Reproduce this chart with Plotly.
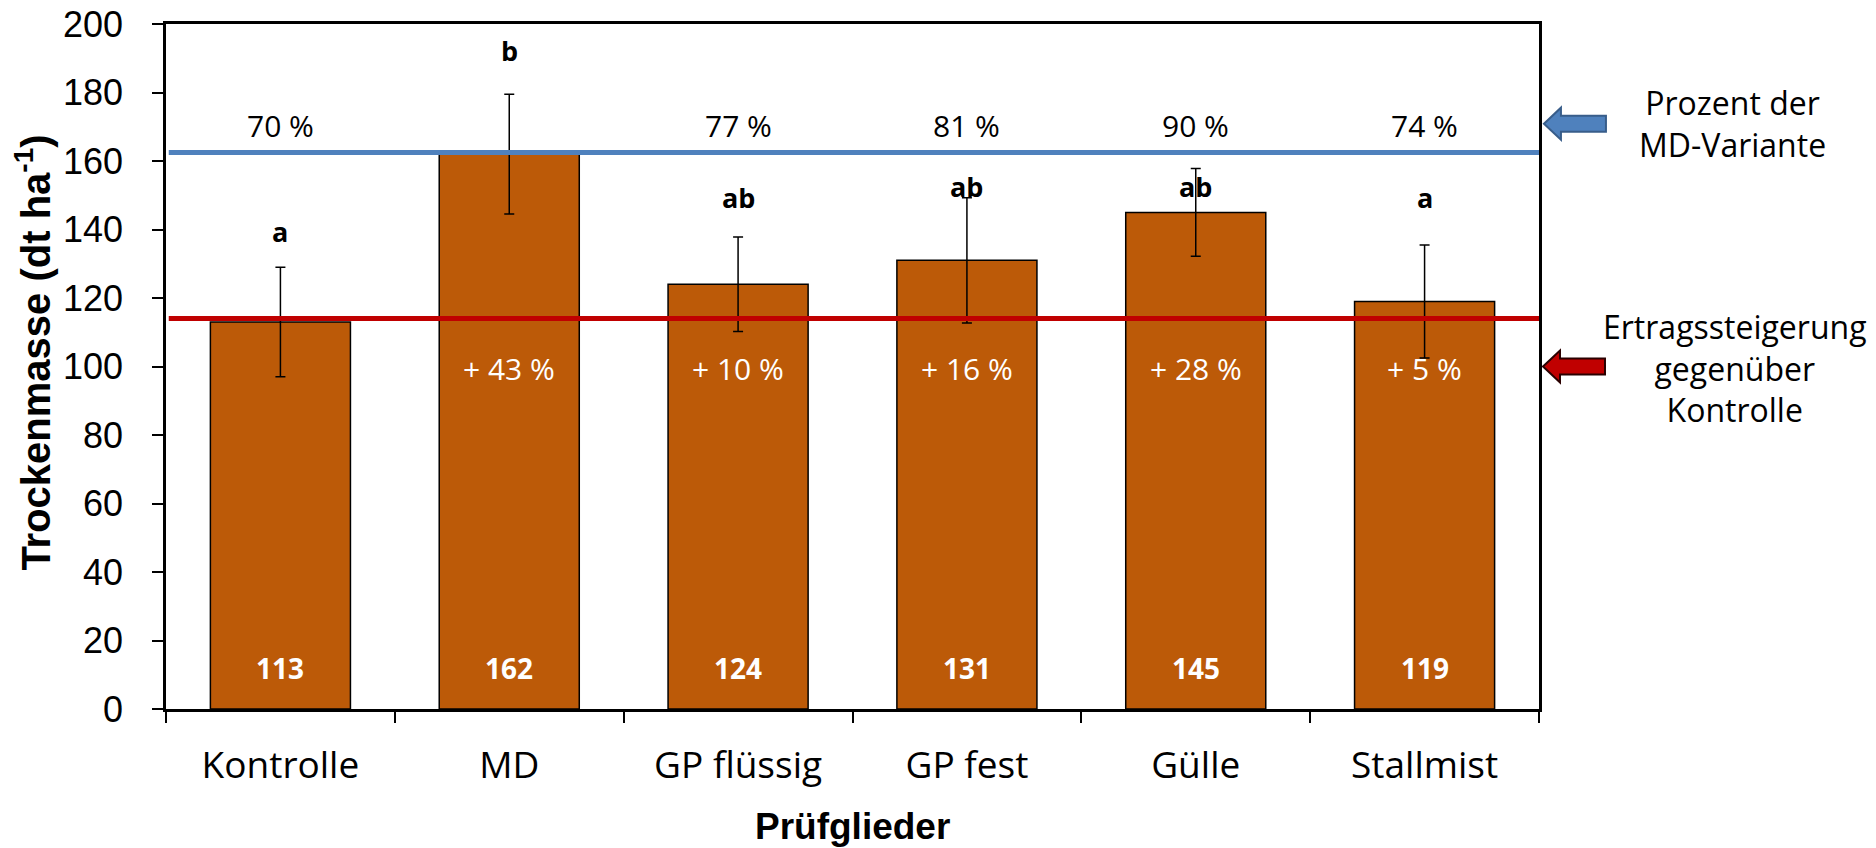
import plotly.graph_objects as go

# ---- data ----
categories = ["Kontrolle", "MD", "GP flüssig", "GP fest", "Gülle", "Stallmist"]
dry_mass = [113, 162, 124, 131, 145, 119]
error_sd = [16.0, 17.5, 13.8, 18.3, 12.8, 16.5]
value_labels = ["113", "162", "124", "131", "145", "119"]
pct_of_md = ["70 %", "", "77 %", "81 %", "90 %", "74 %"]
gain_vs_control = ["", "+ 43 %", "+ 10 %", "+ 16 %", "+ 28 %", "+ 5 %"]
sig_letters = ["a", "b", "ab", "ab", "ab", "a"]
sig_letter_y = [139.5, 192.3, 149.2, 152.7, 152.7, 149.2]
md_ref_level = 162.5
control_ref_level = 114
pct_row_y = 170.4
gain_row_y = 99.5
value_row_y = 12
y_ticks = [0, 20, 40, 60, 80, 100, 120, 140, 160, 180, 200]

BAR = "#BC5A08"
BLUE = "#4F81BD"
RED = "#C00000"
CAL = "Open Sans, Noto Sans, sans-serif"
ARIAL = "Liberation Sans, Arial, sans-serif"

fig = go.Figure()
fig.add_trace(go.Bar(
    x=categories, y=dry_mass,
    marker=dict(color=BAR, line=dict(color="black", width=1.5)),
    error_y=dict(type="data", array=error_sd, visible=True,
                 color="black", thickness=1.5, width=5),
    hoverinfo="x+y", showlegend=False,
))

annotations = []
for c, v, p, g, l, ly, vl in zip(categories, dry_mass, pct_of_md, gain_vs_control,
                                 sig_letters, sig_letter_y, value_labels):
    if p:
        annotations.append(dict(x=c, y=pct_row_y, xref="x", yref="y", text=p,
                                xanchor="center", yanchor="middle",
                                showarrow=False, font=dict(family=CAL, size=30, color="black")))
    if g:
        annotations.append(dict(x=c, y=gain_row_y, xref="x", yref="y", text=g,
                                xanchor="center", yanchor="middle",
                                showarrow=False, font=dict(family=CAL, size=30, color="white")))
    annotations.append(dict(x=c, y=ly, xref="x", yref="y", text="<b>%s</b>" % l,
                            xanchor="center", yanchor="middle",
                            showarrow=False, font=dict(family=CAL, size=27, color="black")))
    annotations.append(dict(x=c, y=value_row_y, xref="x", yref="y", text="<b>%s</b>" % vl,
                            xanchor="center", yanchor="middle",
                            showarrow=False, font=dict(family=CAL, size=28, color="white")))

# side texts
annotations.append(dict(x=1.1406, y=pct_row_y + 0.5, xref="paper", yref="y",
                        xanchor="center", yanchor="middle",
                        text="Prozent der<br>MD-Variante", showarrow=False,
                        align="center", font=dict(family=CAL, size=32, color="black")))
annotations.append(dict(x=1.1428, y=gain_row_y, xref="paper", yref="y",
                        xanchor="center", yanchor="middle",
                        text="Ertragssteigerung<br>gegenüber<br>Kontrolle", showarrow=False,
                        align="center", font=dict(family=CAL, size=32, color="black")))

# axis titles
annotations.append(dict(x=-0.097, y=0.52, xref="paper", yref="paper",
                        xanchor="center", yanchor="middle",
                        text="<b>Trockenmasse (dt ha<sup>-1</sup>)</b>", textangle=-90,
                        showarrow=False, font=dict(family=ARIAL, size=40, color="black")))
annotations.append(dict(x=0.5, y=-0.172, xref="paper", yref="paper",
                        xanchor="center", yanchor="middle",
                        text="<b>Prüfglieder</b>", showarrow=False,
                        font=dict(family=ARIAL, size=37, color="black")))

shapes = [
    dict(type="line", xref="paper", yref="y", x0=0.002, x1=1, y0=md_ref_level, y1=md_ref_level,
         line=dict(color=BLUE, width=5), layer="above"),
    dict(type="line", xref="paper", yref="y", x0=0.002, x1=1, y0=control_ref_level, y1=control_ref_level,
         line=dict(color=RED, width=5), layer="above"),
]
arrow_path = "M 0 0 L 17 16 L 17 8 L 62 8 L 62 -8 L 17 -8 L 17 -16 Z"
shapes.append(dict(type="path", xsizemode="pixel", ysizemode="pixel", xref="paper", yref="y",
                   xanchor=1.0036, yanchor=pct_row_y + 0.5, path=arrow_path,
                   fillcolor=BLUE, line=dict(color="#385D8A", width=2)))
shapes.append(dict(type="path", xsizemode="pixel", ysizemode="pixel", xref="paper", yref="y",
                   xanchor=1.0029, yanchor=gain_row_y + 0.5, path=arrow_path,
                   fillcolor=RED, line=dict(color="#2a0000", width=2)))

fig.update_layout(
    width=1876, height=848,
    margin=dict(l=158, r=345, t=16, b=147),
    paper_bgcolor="white", plot_bgcolor="white",
    bargap=0.388,
    annotations=annotations,
    shapes=shapes,
    showlegend=False,
    xaxis=dict(
        type="category", showline=True, linecolor="black", linewidth=2.5, mirror=True,
        ticks="outside", tickson="boundaries", ticklen=11, tickcolor="black", tickwidth=1.5,
        tickfont=dict(family=CAL, size=37, color="black"), ticklabelstandoff=22,
        showgrid=False, zeroline=False, automargin=False,
    ),
    yaxis=dict(
        range=[0, 200], tickvals=y_ticks, showline=True, linecolor="black", linewidth=2.5,
        mirror=True, ticks="outside", ticklen=11, tickcolor="black", tickwidth=1.5,
        tickfont=dict(family=ARIAL, size=36, color="black"), ticklabelstandoff=22,
        ticklabeloverflow="allow",
        showgrid=False, zeroline=False, automargin=False,
    ),
)

fig.write_html("out.html")
